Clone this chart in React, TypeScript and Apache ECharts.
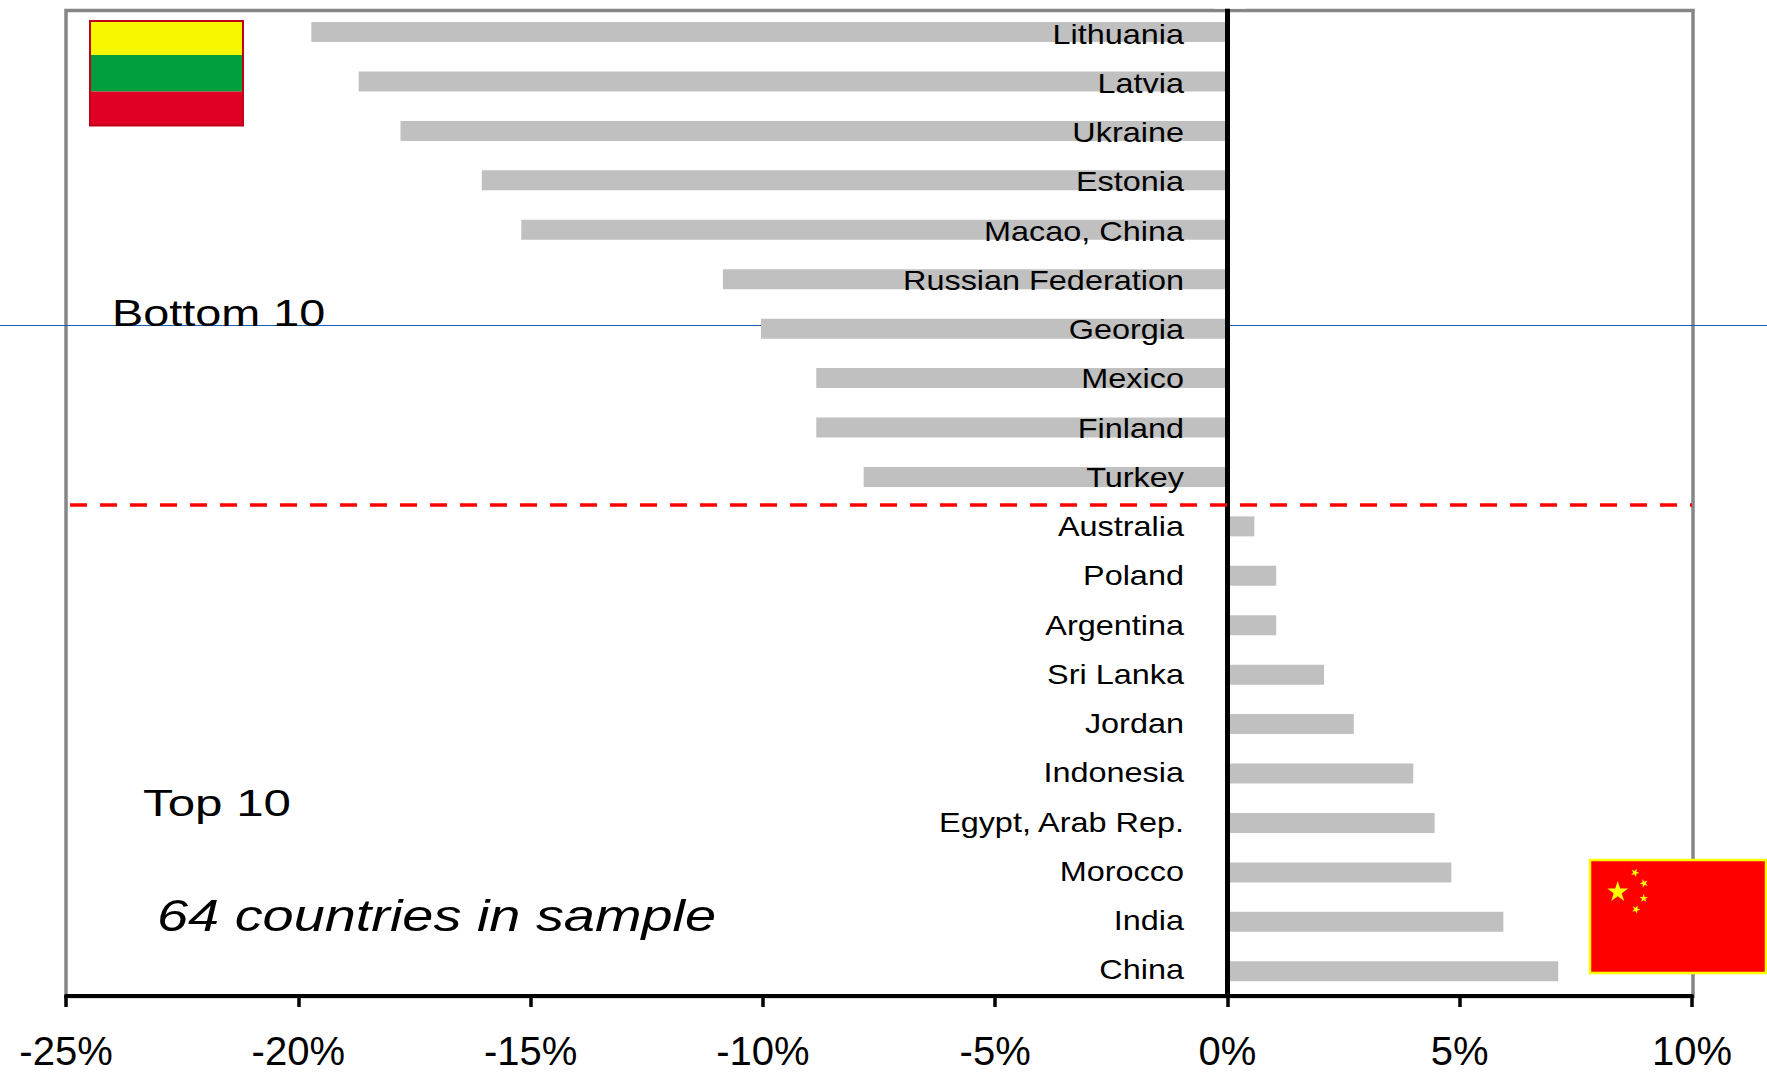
import React, { useEffect, useRef } from "react";
import * as echarts from "echarts";

const countries = [
  "Lithuania", "Latvia", "Ukraine", "Estonia", "Macao, China",
  "Russian Federation", "Georgia", "Mexico", "Finland", "Turkey",
  "Australia", "Poland", "Argentina", "Sri Lanka", "Jordan",
  "Indonesia", "Egypt, Arab Rep.", "Morocco", "India", "China",
];
const changes = [
  -19.72, -18.7, -17.8, -16.05, -15.2,
  -10.86, -10.04, -8.85, -8.85, -7.83,
  0.58, 1.05, 1.05, 2.08, 2.72,
  4.0, 4.46, 4.82, 5.94, 7.12,
];
const FONT = "'Liberation Sans', Arial, sans-serif";

// Five-pointed star outline around a centre, as polygon points.
function star(cx: number, cy: number, r: number, turn = 0) {
  const pts: number[][] = [];
  for (let i = 0; i < 10; i++) {
    const rad = i % 2 === 0 ? r : r * 0.382;
    const a = -Math.PI / 2 + turn + (i * Math.PI) / 5;
    pts.push([cx + rad * Math.cos(a), cy + rad * Math.sin(a)]);
  }
  return pts;
}

function starEl(cx: number, cy: number, r: number, turn = 0) {
  return { type: "polygon", z: 11, shape: { points: star(cx, cy, r, turn) }, style: { fill: "#FFFF00" } };
}

function caption(text: string, x: number, y: number, fontSize: number, scaleX: number, italic = false) {
  return {
    type: "text", z: 12, x, y, scaleX,
    style: {
      text, fill: "#000", font: `${italic ? "italic " : ""}${fontSize}px ${FONT}`,
      textAlign: "left", textVerticalAlign: "bottom",
    },
  };
}

// Country names sit just left of the zero line, widened a little; the
// row pitch of the names is slightly tighter than that of the bars.
function renderCountryLabel(_params: any, api: any) {
  const row = api.value(0);
  const pos = api.coord([0, row]);
  return {
    type: "text",
    x: pos[0] - 43.5,
    y: pos[1] + 2 - (3.5 * row) / 19,
    scaleX: 1.2,
    style: {
      text: countries[row],
      fill: "#000",
      font: `27px ${FONT}`,
      textAlign: "right",
      textVerticalAlign: "middle",
    },
  };
}

export default function App() {
  const ref = useRef<HTMLDivElement>(null);
  useEffect(() => {
    const chart = echarts.init(ref.current!, null, { renderer: "svg" });
    chart.setOption({
      animation: false,
      backgroundColor: "#fff",
      grid: { left: 66, right: 75, top: 7.3, bottom: 76, outerBoundsMode: "none" },
      xAxis: {
        type: "value", min: -25, max: 10, interval: 5, position: "bottom", z: 5,
        splitLine: { show: false },
        axisLine: { show: true, onZero: false, lineStyle: { color: "#000", width: 4 } },
        axisTick: { show: true, length: 11, lineStyle: { color: "#000", width: 3.5 } },
        axisLabel: {
          formatter: "{value}%", color: "#000", fontFamily: FONT, fontSize: 40,
          margin: 34.5, hideOverlap: false, showMinLabel: true, showMaxLabel: true,
        },
      },
      yAxis: {
        type: "category", inverse: true, data: countries, z: 5,
        axisLine: { show: true, onZero: true, lineStyle: { color: "#000", width: 5 } },
        axisTick: { show: false },
        axisLabel: { show: false },
      },
      series: [
        {
          type: "bar", data: changes, barWidth: 20, z: 2,
          itemStyle: { color: "#C0C0C0" },
        },
        {
          type: "custom", z: 6, silent: true, coordinateSystem: "cartesian2d",
          encode: { x: 1, y: 0 },
          data: countries.map((_, i) => [i, 0]),
          renderItem: renderCountryLabel,
        },
      ],
      graphic: [
        // plot frame, with the zero line stopping at its top edge
        { type: "rect", z: 1, shape: { x: 66, y: 10.5, width: 1627, height: 986 }, style: { fill: "none", stroke: "#868686", lineWidth: 3.5 } },
        { type: "rect", z: 7, shape: { x: 1215, y: 0, width: 30, height: 8.7 }, style: { fill: "#fff" } },
        // full-width rule behind the bars
        { type: "line", z: 1, shape: { x1: 0, y1: 325.5, x2: 1767, y2: 325.5 }, style: { stroke: "#1560B8", lineWidth: 1 } },
        // divider between bottom and top groups
        { type: "line", z: 6, shape: { x1: 70, y1: 505, x2: 1692, y2: 505 }, style: { stroke: "#FF0000", lineWidth: 3.5, lineDash: [17, 13] } },
        caption("Bottom 10", 112, 331, 36, 1.3),
        caption("Top 10", 143, 821, 36, 1.37),
        caption("64 countries in sample", 157, 938, 44, 1.27, true),
        // Lithuanian flag
        { type: "rect", z: 10, shape: { x: 90, y: 21, width: 153, height: 34 }, style: { fill: "#F7F700" } },
        { type: "rect", z: 10, shape: { x: 90, y: 55, width: 153, height: 36.5 }, style: { fill: "#009E3D" } },
        { type: "rect", z: 10, shape: { x: 90, y: 91.5, width: 153, height: 34 }, style: { fill: "#E00025" } },
        { type: "rect", z: 11, shape: { x: 90, y: 21, width: 153, height: 104.5 }, style: { fill: "none", stroke: "#C00018", lineWidth: 2 } },
        // Chinese flag
        { type: "rect", z: 10, shape: { x: 1590, y: 860, width: 176, height: 113 }, style: { fill: "#FF0000", stroke: "#FFFF00", lineWidth: 2.5 } },
        starEl(1617.7, 892, 11),
        starEl(1635, 872.7, 4.5, 0.4),
        starEl(1644, 883.3, 4.5, 0.9),
        starEl(1643.7, 898.3, 4.5, 0),
        starEl(1636, 909.3, 4.5, 0.4),
      ],
    });
    return () => chart.dispose();
  }, []);
  return <div ref={ref} style={{ position: "fixed", left: 0, top: 0, width: 1767, height: 1072, overflow: "hidden" }} />;
}
